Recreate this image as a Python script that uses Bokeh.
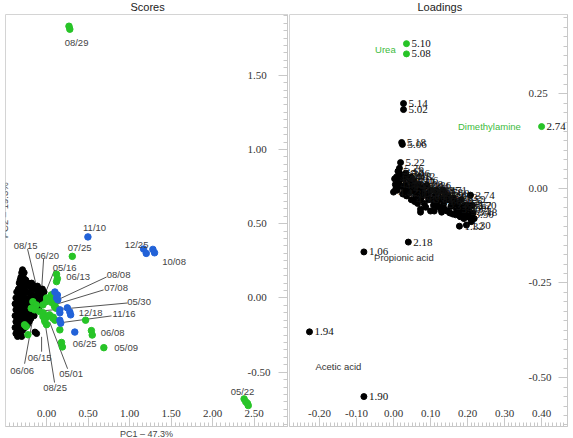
from bokeh.plotting import figure
from bokeh.layouts import row
from bokeh.models import Label, Title, SingleIntervalTicker, PrintfTickFormatter
from bokeh.core.properties import value
from bokeh.embed import file_html
from bokeh.resources import INLINE

# ---------------- Scores (PC1 vs PC2) ----------------
black_x = [-0.29, -0.30, -0.27, -0.31, -0.28, -0.32, -0.29, -0.25, -0.33, -0.27, -0.22, -0.18,
           -0.30, -0.24, -0.20, -0.15, -0.11, -0.34, -0.27, -0.17, -0.13, -0.08, -0.05,
           -0.36, -0.31, -0.25, -0.21, -0.10, -0.03, -0.33, -0.28, -0.18, -0.14, -0.06,
           -0.37, -0.30, -0.23, -0.19, -0.11, -0.02, -0.34, -0.27, -0.15, -0.08,
           -0.38, -0.31, -0.24, -0.20, -0.12, -0.35, -0.28, -0.16, -0.09,
           -0.37, -0.32, -0.25, -0.21, -0.13, -0.34, -0.29, -0.18,
           -0.38, -0.31, -0.26, -0.22, -0.15, -0.35, -0.28, -0.19,
           -0.37, -0.32, -0.25, -0.21, -0.34, -0.29, -0.23, -0.38, -0.31, -0.26,
           -0.35, -0.29, -0.37, -0.32, -0.12, -0.35, -0.30, -0.14]
black_y = [0.19, 0.17, 0.17, 0.14, 0.14, 0.12, 0.12, 0.12, 0.10, 0.10, 0.10, 0.10,
           0.08, 0.08, 0.08, 0.08, 0.08, 0.06, 0.06, 0.06, 0.06, 0.06, 0.06,
           0.04, 0.04, 0.04, 0.04, 0.04, 0.04, 0.02, 0.02, 0.02, 0.02, 0.02,
           0.00, 0.00, 0.00, 0.00, 0.00, 0.00, -0.02, -0.02, -0.02, -0.02,
           -0.04, -0.04, -0.04, -0.04, -0.04, -0.06, -0.06, -0.06, -0.06,
           -0.08, -0.08, -0.08, -0.08, -0.08, -0.10, -0.10, -0.10,
           -0.12, -0.12, -0.12, -0.12, -0.12, -0.14, -0.14, -0.14,
           -0.16, -0.16, -0.16, -0.16, -0.18, -0.18, -0.18, -0.20, -0.20, -0.20,
           -0.22, -0.22, -0.24, -0.24, -0.24, -0.26, -0.26, -0.23]

green_x = [0.27, 0.28, 2.38, 2.40, 2.42, 2.43, 0.31, 0.12, 0.13, 0.12, 0.54, 0.55, 0.69,
           0.18, 0.19, 0.47, 0.16, 0.10, 0.06, 0.00, 0.06, 0.10, -0.04, 0.00, 0.08, 0.10,
           -0.02, 0.00, -0.165, -0.124, -0.185, -0.144, -0.084, -0.044, -0.004, 0.036,
           0.056, 0.076, 0.096, 0.116, -0.044, -0.024, -0.265, -0.245, -0.225, 0.036, 0.076]
green_y = [1.83, 1.81, -0.68, -0.70, -0.71, -0.725, 0.28, 0.16, 0.13, 0.11, -0.22, -0.25, -0.335,
           -0.30, -0.33, -0.15, -0.215, 0.03, 0.02, 0.00, -0.03, -0.05, -0.10, -0.13, -0.13, -0.15,
           -0.16, -0.18, -0.025, -0.047, -0.07, -0.08, -0.092, -0.047, -0.025, -0.013,
           0.02, -0.003, -0.058, -0.07, -0.125, -0.148, -0.181, -0.192, -0.248, -0.114, -0.137]

blue_x = [0.498, 1.169, 1.201, 1.281, 1.301, 0.10, 0.12, 0.135, 0.13, 0.16, 0.16,
          0.25, 0.28, 0.29, 0.16, 0.17, 0.34]
blue_y = [0.411, 0.329, 0.300, 0.327, 0.304, 0.04, 0.00, -0.013, 0.02, -0.08, -0.10,
          -0.067, -0.094, -0.114, -0.15, -0.17, -0.23]

dates = ["08/29", "05/22", "11/10", "12/25", "10/08", "07/25", "08/15", "06/20", "05/16",
         "06/13", "08/08", "07/08", "05/30", "11/16", "12/18", "06/08", "06/25", "05/09",
         "06/15", "06/06", "05/01", "08/25"]
date_lx = [0.361, 2.361, 0.578, 1.084, 1.536, 0.398, -0.253, 0.006, 0.217,
           0.380, 0.867, 0.837, 1.114, 0.934, 0.530, 0.795, 0.458, 0.958,
           -0.084, -0.295, 0.295, 0.102]
date_ly = [1.718, -0.631, 0.477, 0.362, 0.248, 0.342, 0.356, 0.289, 0.208,
           0.141, 0.161, 0.067, -0.027, -0.107, -0.100, -0.235, -0.309, -0.336,
           -0.403, -0.490, -0.510, -0.604]

# leader lines from a label to its sample in the crowded region
lead_x0 = [-0.229, -0.036, 0.096, 0.723, 0.687, 0.976, 0.783, -0.060, -0.265, 0.253, 0.096]
lead_y0 = [0.329, 0.262, 0.188, 0.141, 0.054, -0.034, -0.121, -0.362, -0.443, -0.477, -0.570]
lead_x1 = [-0.120, -0.060, 0.000, 0.133, 0.133, -0.048, 0.157, -0.060, -0.169, 0.036, -0.024]
lead_y1 = [0.074, 0.054, 0.054, -0.013, -0.040, -0.087, -0.168, -0.262, -0.148, -0.161, -0.148]

# ---------------- Loadings ----------------
load_x = [0.000, 0.005, 0.008, 0.012, 0.010, 0.015, 0.020, 0.022, 0.025, 0.028,
          0.032, 0.035, 0.038, 0.040, 0.045, 0.048, 0.050, 0.055, 0.058, 0.060,
          0.065, 0.068, 0.070, 0.073, 0.075, 0.080, 0.083, 0.088, 0.090, 0.095,
          0.100, 0.102, 0.108, 0.112, 0.118, 0.122, 0.128, 0.130, 0.135, 0.140,
          0.145, 0.150, 0.155, 0.160, 0.165, 0.170, 0.175, 0.180, 0.185, 0.190,
          0.195, 0.200, 0.205, 0.210, 0.208, 0.213, 0.178, 0.197, 0.130, 0.073,
          0.003, 0.006, 0.018, 0.030, 0.033, 0.042, 0.047, 0.052, 0.057, 0.062,
          0.063, 0.072, 0.078, 0.085, 0.087, 0.092, 0.097, 0.105, 0.110, 0.115,
          0.120, 0.125, 0.133, 0.138, 0.143, 0.148, 0.152, 0.158, 0.162, 0.168,
          0.172, 0.178, 0.183, 0.188, 0.193, 0.198, 0.203, 0.208, 0.215, 0.218,
          0.027, 0.027, 0.022, 0.024, 0.019, 0.016, 0.016, 0.040, -0.080, -0.227, -0.080]
load_y = [-0.010, 0.010, 0.030, 0.045, -0.005, 0.020, 0.035, 0.005, -0.015, 0.025,
          0.010, -0.020, 0.030, 0.000, 0.018, -0.030, -0.008, 0.020, 0.005, -0.020,
          -0.040, 0.010, -0.005, -0.055, -0.025, 0.000, -0.040, -0.015, 0.008, -0.030,
          -0.060, -0.005, -0.045, -0.020, -0.035, -0.010, -0.055, -0.025, -0.042, -0.015,
          -0.060, -0.030, -0.048, -0.068, -0.035, -0.055, -0.040, -0.075, -0.050, -0.080,
          -0.060, -0.045, -0.070, -0.088, -0.018, -0.045, -0.100, -0.097, -0.063, -0.063,
          0.025, -0.002, 0.008, -0.005, 0.040, -0.012, 0.030, 0.008, -0.035, 0.000,
          -0.010, -0.030, -0.015, 0.005, -0.050, -0.020, -0.010, -0.030, -0.060, -0.005,
          -0.048, -0.030, -0.005, -0.055, -0.030, -0.020, -0.065, -0.040, -0.025, -0.070,
          -0.045, -0.060, -0.030, -0.065, -0.045, -0.075, -0.055, -0.080, -0.065, -0.080,
          0.224, 0.208, 0.121, 0.116, 0.068, 0.053, 0.040, -0.142, -0.168, -0.379, -0.550]
load_tag = ["4.42", "4.38", "5.34", "5.42", "", "4.34", "5.38", "", "4.30", "4.26",
            "4.22", "", "4.18", "4.14", "4.10", "4.54", "", "4.06", "4.02", "4.58",
            "", "3.98", "4.62", "", "4.66", "3.96", "", "3.92", "3.86", "3.88",
            "", "3.84", "", "3.82", "3.80", "3.78", "", "3.76", "3.72", "3.68",
            "", "3.66", "3.64", "", "3.62", "3.60", "3.58", "", "3.56", "",
            "3.54", "3.52", "3.50", "", "3.74", "3.70", "1.32", "1.30", "", "",
            "4.46", "", "4.50", "", "5.46", "", "4.12", "", "", "4.04",
            "", "", "4.70", "3.94", "", "", "3.90", "", "", "3.85",
            "", "", "3.71", "", "", "3.67", "", "", "3.63", "",
            "", "", "3.59", "", "3.55", "", "", "", "3.48", "",
            "5.14", "5.02", "5.18", "5.06", "5.22", "5.26", "5.30", "2.18", "1.06", "1.94", "1.90"]

urea_x = [0.035, 0.035]
urea_y = [0.382, 0.355]
urea_tag = ["5.10", "5.08"]
dma_x = [0.400]
dma_y = [0.163]
dma_tag = ["2.74"]

names = ["Urea", "Dimethylamine", "Propionic acid", "Acetic acid"]
name_x = [-0.022, 0.259, 0.028, -0.149]
name_y = [0.366, 0.163, -0.184, -0.471]
name_color = ["#3dbb3d", "#3dbb3d", "#333333", "#333333"]

GREEN = "#27c427"
BLUE = "#2262d8"
SANS = "'Liberation Sans'"
SERIF = "'Liberation Serif'"


def style_axes(p, xstep, ystep, xstand, ystand, title, title_offset):
    p.xgrid.visible = False
    p.ygrid.visible = False
    p.outline_line_color = "#d4d4d4"
    p.xaxis[0].ticker = SingleIntervalTicker(interval=xstep, num_minor_ticks=10)
    p.yaxis[0].ticker = SingleIntervalTicker(interval=ystep, num_minor_ticks=10)
    for ax in (p.xaxis[0], p.yaxis[0]):
        ax.formatter = PrintfTickFormatter(format="%.2f")
        ax.axis_line_color = "#c8c8c8"
        ax.major_tick_line_color = "#c8c8c8"
        ax.minor_tick_line_color = "#c8c8c8"
        ax.major_tick_in = 9
        ax.major_tick_out = 0
        ax.minor_tick_in = 4
        ax.minor_tick_out = 0
        ax.major_label_text_font = SERIF
        ax.major_label_text_font_size = "11px"
        ax.major_label_text_color = "#333333"
    p.xaxis[0].major_label_standoff = xstand
    p.yaxis[0].major_label_standoff = ystand
    p.title.text = title
    p.title.align = "left"
    p.title.offset = title_offset
    p.title.standoff = 0
    p.title.vertical_align = "top"
    p.title.text_font = SANS
    p.title.text_font_style = "normal"
    p.title.text_font_size = "11px"
    p.title.text_color = "#222222"


# Scores panel
p1 = figure(width=288, height=438, x_range=(-0.495, 2.903), y_range=(-0.866, 1.909),
            output_backend="svg", toolbar_location=None,
            x_axis_location="below", y_axis_location="right",
            min_border_left=5, min_border_right=1, min_border_top=12, min_border_bottom=9)
style_axes(p1, 0.5, 0.5, -17, -40, "Scores", 125)
p1.add_layout(Title(text="PC1 – 47.3%", align="center", standoff=0, vertical_align="bottom",
                    text_font=SANS, text_font_size="9px", text_font_style="normal",
                    text_color="#444444"), "below")

p1.segment(x0=lead_x0, y0=lead_y0, x1=lead_x1, y1=lead_y1, line_color="#555555", line_width=1)
p1.scatter(black_x, black_y, size=6, color="black")
p1.scatter(green_x, green_y, size=6.5, color=GREEN)
p1.scatter(blue_x, blue_y, size=6.5, color=BLUE)
p1.text(x=date_lx, y=date_ly, text=dates, text_font=value(SANS), text_font_size=value("9.5px"),
        text_color="#444444", text_align="center", text_baseline="middle")

p1.add_layout(Label(x=-0.507, y=0.590, text="PC2 – 19.3%", text_font=SANS, text_font_size="9.5px",
                    text_color="#444444", text_align="center", text_baseline="alphabetic",
                    angle=1.5708))

# Loadings panel
p2 = figure(width=285, height=438, x_range=(-0.281, 0.470), y_range=(-0.629, 0.459),
            output_backend="svg", toolbar_location=None,
            x_axis_location="below", y_axis_location="right",
            min_border_left=1, min_border_right=6, min_border_top=12, min_border_bottom=9)
style_axes(p2, 0.1, 0.25, -17, -39, "Loadings", 128)

p2.scatter(load_x, load_y, size=6, color="black")
p2.scatter(urea_x, urea_y, size=6, color=GREEN)
p2.scatter(dma_x, dma_y, size=6, color=GREEN)
num_font = dict(text_font=value(SERIF), text_font_size=value("11px"), text_align="left",
                text_baseline="alphabetic", x_offset=5)
p2.text(x=load_x, y=load_y, text=load_tag, text_color="#111111", **num_font)
p2.text(x=urea_x, y=urea_y, text=urea_tag, text_color="#111111", **num_font)
p2.text(x=dma_x, y=dma_y, text=dma_tag, text_color="#111111", **num_font)
p2.text(x=name_x, y=name_y, text=names, text_color=name_color, text_font=value(SANS),
        text_font_size=value("9.5px"), text_align="center", text_baseline="middle")

layout = row(p1, p2)
open("out.html", "w").write(file_html(layout, INLINE))
